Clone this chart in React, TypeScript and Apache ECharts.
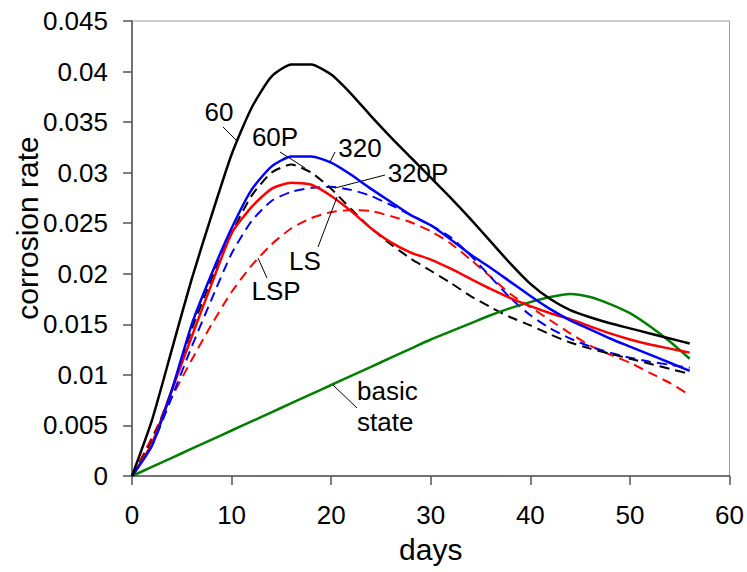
import React, { useEffect, useRef } from "react";
import * as echarts from "echarts";

const days = [0, 2, 4, 6, 8, 10, 12, 14, 16, 18, 20, 22, 24, 26, 28, 30, 32, 34, 36, 38, 40, 42, 44, 46, 48, 50, 52, 54, 56];

const s60 = [0, 0.0055, 0.0125, 0.0195, 0.0258, 0.0318, 0.0364, 0.0395, 0.0407, 0.0407, 0.0397, 0.0378, 0.0356, 0.0335, 0.0315, 0.0295, 0.0275, 0.0254, 0.0232, 0.021, 0.019, 0.0175, 0.0164, 0.0157, 0.0151, 0.0146, 0.0141, 0.0136, 0.0131];
const s60P = [0, 0.0035, 0.0085, 0.0145, 0.0195, 0.024, 0.0277, 0.03, 0.0308, 0.03, 0.0284, 0.0264, 0.0245, 0.0229, 0.0215, 0.0203, 0.0191, 0.0178, 0.0167, 0.0157, 0.0149, 0.014, 0.0132, 0.0126, 0.0121, 0.0116, 0.0111, 0.0106, 0.0101];
const s320 = [0, 0.003, 0.0085, 0.015, 0.02, 0.0245, 0.0283, 0.0306, 0.0316, 0.0316, 0.031, 0.0298, 0.0284, 0.0271, 0.0258, 0.0248, 0.0234, 0.0219, 0.0206, 0.0192, 0.0178, 0.0165, 0.0154, 0.0145, 0.0136, 0.0128, 0.012, 0.0112, 0.0104];
const s320P = [0, 0.003, 0.0078, 0.0128, 0.0175, 0.022, 0.0252, 0.0272, 0.0281, 0.0285, 0.0286, 0.0283, 0.0277, 0.0268, 0.0258, 0.0248, 0.0236, 0.0218, 0.0197, 0.0176, 0.0159, 0.0146, 0.0136, 0.0128, 0.0122, 0.0117, 0.0113, 0.011, 0.0107];
const sLS = [0, 0.0032, 0.0085, 0.0138, 0.019, 0.024, 0.0266, 0.0284, 0.029, 0.0288, 0.0277, 0.0262, 0.0245, 0.0231, 0.0221, 0.0214, 0.0205, 0.0195, 0.0185, 0.0176, 0.0168, 0.0161, 0.0155, 0.0148, 0.0141, 0.0135, 0.013, 0.0126, 0.0122];
const sLSP = [0, 0.0038, 0.0078, 0.0115, 0.015, 0.0182, 0.0208, 0.0229, 0.0245, 0.0255, 0.0261, 0.0263, 0.0262, 0.0257, 0.0251, 0.0242, 0.023, 0.0214, 0.0197, 0.018, 0.0167, 0.0154, 0.0141, 0.0129, 0.012, 0.0112, 0.0102, 0.0092, 0.008];
const sBasic = [0, 0.0009, 0.0018, 0.0027, 0.0036, 0.0045, 0.0054, 0.0063, 0.0072, 0.0081, 0.009, 0.0099, 0.0108, 0.0117, 0.0126, 0.0135, 0.0143, 0.0151, 0.0159, 0.0166, 0.0172, 0.0177, 0.018, 0.0177, 0.017, 0.0161, 0.0148, 0.0133, 0.0116];

const xTicks = [0, 10, 20, 30, 40, 50, 60];
const yTickLabels = ["0", "0.005", "0.01", "0.015", "0.02", "0.025", "0.03", "0.035", "0.04", "0.045"];

const FONT = "'Liberation Sans', Arial, sans-serif";

function pairs(v: number[]) {
  return days.map((d, i) => [d, v[i]]);
}

export default function App() {
  const ref = useRef<HTMLDivElement>(null);
  useEffect(() => {
    if (!ref.current) return;
    const chart = echarts.init(ref.current, undefined, { renderer: "svg" });
    const mk = (name: string, data: number[], color: string, dashed: boolean, width: number) => ({
      name,
      type: "line",
      data: pairs(data),
      smooth: 0.2,
      symbol: "none",
      lineStyle: { color, width, type: dashed ? [10, 6] : "solid" },
      z: dashed ? 2 : 3,
    });
    const lbl = (text: string, x: number, y: number) => ({
      type: "text",
      x,
      y,
      style: { text, fontSize: 26, fontFamily: FONT, fill: "#000", align: "center", verticalAlign: "middle" },
      z: 10,
    });
    const ln = (x1: number, y1: number, x2: number, y2: number) => ({
      type: "line",
      shape: { x1, y1, x2, y2 },
      style: { stroke: "#000", lineWidth: 1 },
      z: 10,
    });
    chart.setOption({
      animation: false,
      backgroundColor: "#fff",
      grid: { left: 132, right: 16, top: 21, bottom: 96, show: true, borderColor: "#999", borderWidth: 1 },
      xAxis: {
        type: "value",
        min: 0,
        max: 60,
        interval: 10,
        name: "days",
        nameLocation: "middle",
        nameGap: 58,
        nameTextStyle: { fontSize: 30, fontFamily: FONT, color: "#000" },
        axisLine: { show: true, lineStyle: { color: "#555", width: 1.5 } },
        axisTick: { show: true, length: 9, lineStyle: { color: "#555", width: 1.5 } },
        axisLabel: {
          fontSize: 26,
          fontFamily: FONT,
          color: "#000",
          margin: 26,
          formatter: (v: number) => (xTicks.indexOf(v) >= 0 ? String(v) : ""),
        },
        splitLine: { show: false },
      },
      yAxis: {
        type: "value",
        min: 0,
        max: 0.045,
        interval: 0.005,
        axisLine: { show: true, lineStyle: { color: "#555", width: 1.5 } },
        axisTick: { show: true, length: 9, lineStyle: { color: "#555", width: 1.5 } },
        axisLabel: {
          fontSize: 26,
          fontFamily: FONT,
          color: "#000",
          margin: 24,
          formatter: (v: number) => yTickLabels[Math.round(v / 0.005)] ?? "",
        },
        splitLine: { show: false },
      },
      graphic: [
        {
          type: "text",
          x: 27,
          y: 228,
          rotation: Math.PI / 2,
          style: { text: "corrosion rate", fontSize: 30, fontFamily: FONT, fill: "#000", align: "center", verticalAlign: "middle" },
        },
        lbl("60", 219, 112),
        ln(223, 127, 238, 142),
        lbl("60P", 275, 137),
        ln(280, 152, 305, 168),
        lbl("320", 360, 148),
        ln(335, 152, 330, 162),
        lbl("320P", 418, 173),
        ln(385, 175, 335, 188),
        lbl("LS", 305, 261),
        ln(318, 247, 337, 197),
        lbl("LSP", 276, 291),
        ln(267, 278, 258, 258),
        {
          type: "text",
          x: 357,
          y: 406,
          style: { text: "basic\nstate", fontSize: 26, lineHeight: 31, fontFamily: FONT, fill: "#000", align: "left", verticalAlign: "middle" },
          z: 10,
        },
        ln(357, 408, 333, 385),
      ],
      series: [
        mk("basic state", sBasic, "#008000", false, 2.5),
        mk("LSP", sLSP, "#ff0000", true, 2),
        mk("320P", s320P, "#0000ff", true, 2),
        mk("60P", s60P, "#000000", true, 2),
        mk("LS", sLS, "#ff0000", false, 2.5),
        mk("320", s320, "#0000ff", false, 2.5),
        mk("60", s60, "#000000", false, 2.5),
      ],
    });
    return () => chart.dispose();
  }, []);
  return <div ref={ref} style={{ position: "fixed", left: 0, top: 0, width: 747, height: 572, background: "#fff" }} />;
}
